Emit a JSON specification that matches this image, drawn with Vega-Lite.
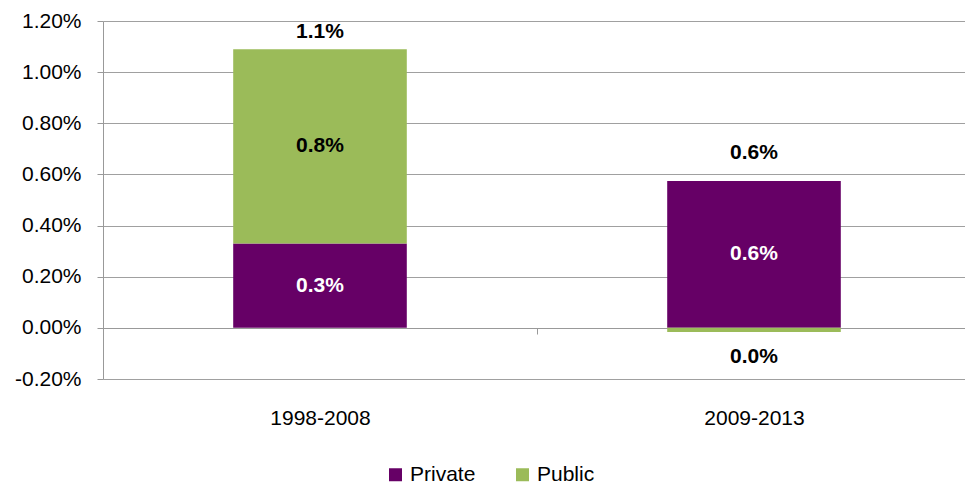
{
  "$schema": "https://vega.github.io/schema/vega-lite/v6.json",
  "width": 862,
  "height": 358,
  "autosize": {"type": "none"},
  "padding": {"left": 103, "top": 21, "right": 0, "bottom": 112},
  "background": "white",
  "config": {"view": {"stroke": null}, "font": "Liberation Sans"},
  "data": {
    "values": [
      {"period": "1998-2008", "sector": "Private", "value": 0.0033, "label": "0.3%"},
      {"period": "1998-2008", "sector": "Public", "value": 0.0076, "label": "0.8%"},
      {"period": "2009-2013", "sector": "Private", "value": 0.00574, "label": "0.6%"},
      {"period": "2009-2013", "sector": "Public", "value": -0.00016, "label": "0.0%"}
    ]
  },
  "encoding": {
    "x": {
      "field": "period",
      "type": "nominal",
      "scale": {"paddingInner": 0.6, "paddingOuter": 0.3, "range": [0, 868]},
      "axis": {
        "title": null,
        "labelAngle": 0,
        "labelFontSize": 21,
        "labelColor": "#000000",
        "offset": -51,
        "tickOffset": 217,
        "labelOffset": -217,
        "tickSize": 6,
        "tickColor": "#999999",
        "domainColor": "#999999",
        "labelPadding": 73,
        "grid": false
      }
    }
  },
  "layer": [
    {
      "mark": {"type": "bar"},
      "encoding": {
        "y": {
          "field": "value",
          "type": "quantitative",
          "stack": "zero",
          "scale": {"domain": [-0.002, 0.012], "nice": false},
          "axis": {
            "title": null,
            "format": ".2%",
            "labelExpr": "replace(datum.label, '−', '-')",
            "values": [-0.002, 0, 0.002, 0.004, 0.006, 0.008, 0.01, 0.012],
            "labelFontSize": 21,
            "labelColor": "#000000",
            "labelPadding": 16,
            "tickSize": 6,
            "tickColor": "#999999",
            "domainColor": "#999999",
            "gridColor": "#a0a0a0",
            "gridWidth": 1.2
          }
        },
        "color": {
          "field": "sector",
          "type": "nominal",
          "scale": {"domain": ["Private", "Public"], "range": ["#660066", "#9BBB59"]},
          "legend": {
            "title": null,
            "orient": "none",
            "direction": "horizontal",
            "legendX": 282,
            "legendY": 443,
            "symbolType": "square",
            "symbolSize": 169,
            "symbolStrokeWidth": 0,
            "symbolOpacity": 1,
            "labelFontSize": 21,
            "labelColor": "#000000",
            "labelOffset": 4,
            "columnPadding": 36,
            "padding": 0
          }
        },
        "order": {"field": "sector"}
      }
    },
    {
      "transform": [
        {"stack": "value", "groupby": ["period"], "sort": [{"field": "sector"}], "as": ["v0", "v1"]},
        {"calculate": "(datum.v0 + datum.v1) / 2", "as": "mid"},
        {"filter": "datum.value > 0 && datum.sector == 'Private'"}
      ],
      "mark": {"type": "text", "fontSize": 21, "fontWeight": "bold", "color": "#ffffff", "baseline": "middle"},
      "encoding": {
        "y": {"field": "mid", "type": "quantitative"},
        "text": {"field": "label"}
      }
    },
    {
      "transform": [
        {"stack": "value", "groupby": ["period"], "sort": [{"field": "sector"}], "as": ["v0", "v1"]},
        {"calculate": "(datum.v0 + datum.v1) / 2", "as": "mid"},
        {"filter": "datum.value > 0 && datum.sector == 'Public'"}
      ],
      "mark": {"type": "text", "fontSize": 21, "fontWeight": "bold", "color": "#000000", "baseline": "middle"},
      "encoding": {
        "y": {"field": "mid", "type": "quantitative"},
        "text": {"field": "label"}
      }
    },
    {
      "transform": [{"filter": "datum.value < 0"}],
      "mark": {"type": "text", "fontSize": 21, "fontWeight": "bold", "color": "#000000", "baseline": "middle", "dy": 25},
      "encoding": {
        "y": {"field": "value", "type": "quantitative"},
        "text": {"field": "label"}
      }
    },
    {
      "transform": [
        {"aggregate": [{"op": "sum", "field": "value", "as": "total"}], "groupby": ["period"]},
        {"filter": "datum.period == '1998-2008'"}
      ],
      "mark": {"type": "point", "shape": "M-3,-0.5H3V0.5H-3Z", "filled": true, "color": "#ffffff", "opacity": 1, "size": 400, "yOffset": -18},
      "encoding": {
        "y": {"field": "total", "type": "quantitative"}
      }
    },
    {
      "transform": [
        {"aggregate": [{"op": "sum", "field": "value", "as": "total"}], "groupby": ["period"]},
        {"filter": "datum.period == '1998-2008'"}
      ],
      "mark": {"type": "text", "fontSize": 21, "fontWeight": "bold", "color": "#000000", "baseline": "middle", "dy": -17},
      "encoding": {
        "y": {"field": "total", "type": "quantitative"},
        "text": {"field": "total", "type": "quantitative", "format": ".1%"}
      }
    },
    {
      "transform": [
        {"aggregate": [{"op": "sum", "field": "value", "as": "total"}], "groupby": ["period"]},
        {"filter": "datum.period == '2009-2013'"}
      ],
      "mark": {"type": "text", "fontSize": 21, "fontWeight": "bold", "color": "#000000", "baseline": "middle", "dy": -32},
      "encoding": {
        "y": {"field": "total", "type": "quantitative"},
        "text": {"field": "total", "type": "quantitative", "format": ".1%"}
      }
    }
  ]
}
